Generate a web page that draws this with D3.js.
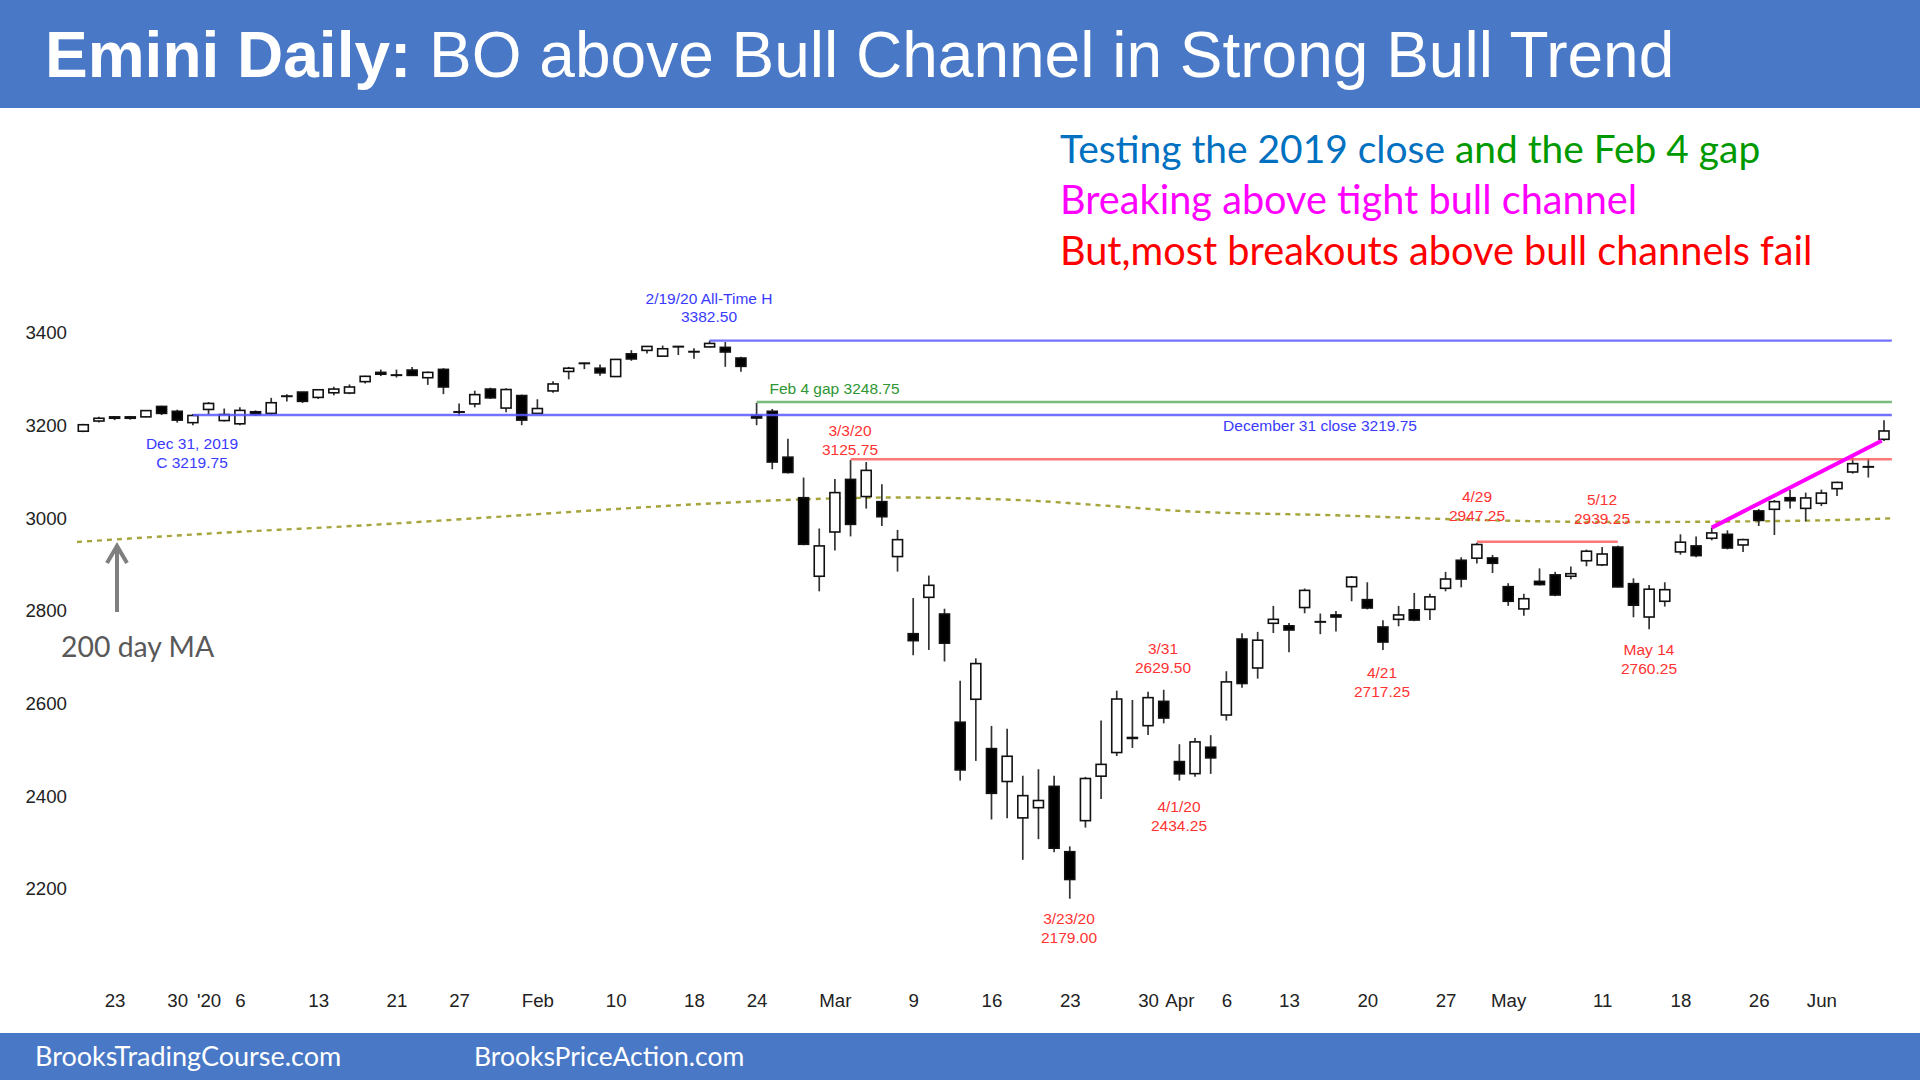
<!DOCTYPE html>
<html lang="en">

<head>
    <meta charset="UTF-8">
    <title>Emini Daily</title>
    <script src="https://d3js.org/d3.v7.min.js"></script>
    <style>
        html, body { margin: 0; padding: 0; background: #fff; }
        svg { display: block; }
        .tick text { font-family: "Liberation Sans", sans-serif; font-size: 18.7px; fill: #222; }
        .lbl { font-family: "Liberation Sans", sans-serif; font-size: 15.5px; text-anchor: middle; }
        .cal { font-family: Lato, sans-serif; }
    </style>
</head>

<body>

    <script>
        // daily bars, Dec 23 2019 side to Jun 2020
        const opens = [
            3188, 3210, 3219, 3219, 3219, 3241.5, 3231, 3206.5, 3235, 3211,
            3204, 3230, 3226.5, 3264, 3272.5, 3261, 3271, 3270.5, 3295, 3315,
            3309.5, 3320, 3303.5, 3321.5, 3230, 3247, 3279, 3238, 3265, 3226.5,
            3275, 3317, 3335, 3324, 3306, 3355, 3362.5, 3350, 3371, 3360,
            3370, 3369, 3346, 3222, 3231, 3132, 3044.5, 2875, 2970.5, 3084,
            3047, 3036, 2917.5, 2751, 2829.5, 2793.5, 2560, 2609.5, 2503, 2432,
            2353.5, 2375.5, 2421.5, 2280.5, 2347.5, 2443.5, 2494.5, 2527, 2552.5, 2605,
            2475, 2449, 2506, 2575.5, 2739.5, 2677, 2773.5, 2768, 2807.5, 2777,
            2791.5, 2852.5, 2824.5, 2765.5, 2782, 2802.5, 2803.5, 2849, 2909.5, 2914,
            2914.5, 2852.5, 2804.5, 2864, 2878, 2875, 2908.5, 2899.5, 2938, 2859,
            2787, 2821, 2927.5, 2940.5, 2957, 2965.5, 2942.5, 3016, 3019.5, 3044.5,
            3021.5, 3032.5, 3064, 3100, 3111.5, 3170.5
        ];
        const highs = [
            3204, 3219.5, 3221, 3221, 3233, 3243, 3234.5, 3225, 3251, 3237,
            3240, 3233, 3260, 3268, 3273, 3278.5, 3284, 3289, 3308, 3321,
            3321, 3326.5, 3317, 3324, 3248, 3275.5, 3282, 3281, 3267, 3257,
            3296, 3327, 3336, 3332, 3344, 3363, 3372, 3373, 3372, 3367,
            3383.5, 3380.5, 3349, 3249, 3236, 3172, 3088, 2978, 3085, 3126,
            3121.5, 3073.5, 2975, 2828, 2876.5, 2805, 2649.5, 2698, 2552, 2546,
            2444.5, 2458.5, 2444.5, 2292, 2442, 2563.5, 2628, 2608, 2625.5, 2630,
            2512.5, 2526, 2532, 2670, 2752, 2755, 2811, 2774, 2848.5, 2794.5,
            2800, 2875.5, 2862, 2780, 2811, 2839, 2837, 2884.5, 2916, 2947.5,
            2921, 2860, 2837, 2892, 2884.5, 2896, 2932.5, 2938, 2941, 2870.5,
            2856, 2862, 2965.5, 2961, 2980, 2974, 2956, 3020, 3039.5, 3061,
            3055.5, 3062, 3079, 3131.5, 3129.5, 3211.5
        ];
        const lows = [
            3186, 3207, 3212, 3213, 3218, 3223, 3206.5, 3201, 3224, 3209,
            3201, 3221, 3223, 3252, 3249, 3257.5, 3265.5, 3268, 3291, 3307,
            3304, 3307, 3288, 3268, 3221, 3239.5, 3257.5, 3229, 3201, 3225,
            3271, 3300, 3322, 3308, 3305, 3340, 3356, 3349, 3352.5, 3344.5,
            3369, 3327, 3316.5, 3201, 3106, 3097, 2942, 2842.5, 2930.5, 2961,
            3021, 2983.5, 2885, 2704.5, 2716, 2691, 2434, 2476.5, 2350, 2352.5,
            2263, 2307.5, 2279.5, 2179, 2332.5, 2394.5, 2487, 2504.5, 2532.5, 2557.5,
            2434, 2442.5, 2448.5, 2563.5, 2634.5, 2654, 2752.5, 2711, 2795, 2750,
            2755.5, 2821, 2803.5, 2716, 2767, 2778, 2780.5, 2842.5, 2851, 2902.5,
            2882, 2811, 2789.5, 2855, 2832, 2868.5, 2896.5, 2897, 2851, 2786.5,
            2760.5, 2809.5, 2921.5, 2916, 2952.5, 2933, 2927.5, 2983.5, 2964, 3021,
            2993.5, 3026.5, 3048, 3096.5, 3088, 3167
        ];
        const closes = [
            3202, 3216, 3216, 3216, 3232.5, 3226.5, 3212, 3222, 3248, 3224,
            3233, 3224, 3249.5, 3263.5, 3252.5, 3277.5, 3279, 3283.5, 3306.5, 3311,
            3309, 3308.5, 3315, 3283.5, 3230, 3267, 3260, 3278, 3212, 3237,
            3290, 3324, 3335, 3314, 3343, 3344, 3371, 3366, 3371, 3360,
            3377.5, 3359, 3328, 3216.5, 3121.5, 3099, 2944, 2940.5, 3055.5, 2987,
            3103.5, 3003.5, 2954, 2736, 2855.5, 2730.5, 2457, 2686.5, 2406.5, 2486.5,
            2401.5, 2391, 2288, 2220.5, 2438.5, 2469, 2610, 2525, 2613, 2569,
            2448.5, 2517.5, 2483, 2647, 2643.5, 2737, 2782, 2759, 2844.5, 2777,
            2787, 2873, 2806.5, 2733, 2791.5, 2780.5, 2830.5, 2869, 2869, 2943.5,
            2903, 2821, 2826.5, 2857, 2834.5, 2880.5, 2929, 2923, 2852, 2812.5,
            2847, 2846, 2948.5, 2919.5, 2968.5, 2936, 2954, 2995.5, 3036, 3038,
            3044, 3054.5, 3077.5, 3118, 3111.5, 3188.5
        ];

        // 200 day moving average, read at a handful of bars
        const maBars = [-0.4, 10, 18, 25, 33, 40, 46, 52, 60, 65, 70, 80, 89, 98, 110, 115.5];
        const maValues = [2949, 2971, 2985, 3000, 3018, 3032, 3041, 3045, 3039, 3028, 3016, 3006.5, 2996.5, 2992, 2995, 3000];

        // tick labels
        const xTickBars = [2, 6, 8, 10, 15, 20, 24, 29, 34, 39, 43, 48, 53, 58, 63, 68, 70, 73, 77, 82, 87, 91, 97, 102, 107, 111];
        const xTickLabels = ["23", "30", "'20", "6", "13", "21", "27", "Feb", "10", "18", "24", "Mar", "9", "16", "23", "30", "Apr", "6", "13", "20", "27", "May", "11", "18", "26", "Jun"];
        const yTicks = [2200, 2400, 2600, 2800, 3000, 3200, 3400];

        // horizontal levels [from bar, to bar, price]
        const athLevel = [40, 115.5, 3383.5];
        const gapLevel = [43, 115.5, 3251];
        const closeLevel = [7, 115.5, 3223];
        const marchLevel = [49, 115.5, 3127.5];
        const aprilLevel = [89, 98, 2949.5];

        // tight bull channel line
        const channelBars = [104, 114.85];
        const channelPrices = [2980, 3167.5];

        const width = 1920;
        const height = 1080;
        const blue = "#3a3aff";
        const red = "#ff3333";
        const headerColor = "#4878c6";

        const x = d3.scaleLinear().domain([0, 115]).range([83.3, 1884]);
        const y = d3.scaleLinear().domain([2200, 3400]).range([889, 333]);

        const svg = d3.select("body")
            .append("svg")
            .attr("width", width)
            .attr("height", height);

        svg.append("rect").attr("width", width).attr("height", height).attr("fill", "#fff");

        // header and footer bands
        svg.append("rect").attr("width", width).attr("height", 108).attr("fill", headerColor);
        svg.append("rect").attr("y", 1033).attr("width", width).attr("height", 47).attr("fill", headerColor);

        const title = svg.append("text")
            .attr("x", 45)
            .attr("y", 76.5)
            .attr("fill", "#fff")
            .style("font-family", '"Liberation Sans", sans-serif')
            .style("font-size", "64px");
        title.append("tspan").style("font-weight", "bold").text("Emini Daily:");
        title.append("tspan").text(" BO above Bull Channel in Strong Bull Trend");

        svg.append("text").attr("class", "cal").attr("x", 35).attr("y", 1066)
            .attr("fill", "#fff").style("font-size", "27px").text("BrooksTradingCourse.com");
        svg.append("text").attr("class", "cal").attr("x", 474).attr("y", 1066)
            .attr("fill", "#fff").style("font-size", "26.5px").text("BrooksPriceAction.com");

        // coloured headline notes
        const note1 = svg.append("text").attr("class", "cal").attr("x", 1060).attr("y", 163).style("font-size", "38.9px");
        note1.append("tspan").attr("fill", "#0070c0").text("Testing the 2019 close ");
        note1.append("tspan").attr("fill", "#009a00").text("and the Feb 4 gap");
        svg.append("text").attr("class", "cal").attr("x", 1060).attr("y", 214).style("font-size", "39.7px")
            .attr("fill", "#ff00ff").text("Breaking above tight bull channel");
        svg.append("text").attr("class", "cal").attr("x", 1060).attr("y", 265).style("font-size", "39.7px")
            .attr("fill", "#ff0000").text("But,most breakouts above bull channels fail");

        // axes
        const xAxis = d3.axisBottom(x)
            .tickValues(xTickBars)
            .tickFormat((d, i) => xTickLabels[i])
            .tickSize(0)
            .tickPadding(0);
        svg.append("g").attr("transform", "translate(0,994)").call(xAxis).call(g => g.select(".domain").remove());

        const yAxis = d3.axisLeft(y)
            .tickValues(yTicks)
            .tickFormat(d3.format("d"))
            .tickSize(0)
            .tickPadding(0);
        svg.append("g").attr("transform", "translate(67,0)").call(yAxis).call(g => g.select(".domain").remove());

        // moving average
        svg.append("path")
            .attr("d", d3.line().x(i => x(maBars[i])).y(i => y(maValues[i])).curve(d3.curveMonotoneX)(d3.range(maBars.length)))
            .attr("fill", "none")
            .attr("stroke", "#a5a53c")
            .attr("stroke-width", 2.4)
            .attr("stroke-dasharray", "5 5");

        // candles
        const bars = svg.selectAll(".bar")
            .data(d3.range(opens.length))
            .enter()
            .append("g")
            .attr("class", "bar");

        bars.append("line")
            .attr("x1", i => x(i)).attr("x2", i => x(i))
            .attr("y1", i => y(highs[i])).attr("y2", i => y(lows[i]))
            .attr("stroke", "#333")
            .attr("stroke-width", 1.7);

        bars.append("rect")
            .attr("x", i => x(i) - 5)
            .attr("width", 10)
            .attr("y", i => y(Math.max(opens[i], closes[i])))
            .attr("height", i => Math.max(Math.abs(y(opens[i]) - y(closes[i])), 0.4))
            .attr("fill", i => closes[i] < opens[i] ? "#000" : "#fff")
            .attr("stroke", "#111")
            .attr("stroke-width", 1.6);

        // level lines sit over the candles and let them show through
        const levels = [
            [athLevel, "#5a5aff"],
            [gapLevel, "#62ad62"],
            [closeLevel, "#5a5aff"],
            [marchLevel, "#ff6060"],
            [aprilLevel, "#ff6060"]
        ];
        svg.selectAll(".level")
            .data(levels)
            .enter()
            .append("line")
            .attr("class", "level")
            .attr("x1", d => x(d[0][0]))
            .attr("x2", d => x(d[0][1]))
            .attr("y1", d => y(d[0][2]))
            .attr("y2", d => y(d[0][2]))
            .attr("stroke", d => d[1])
            .attr("stroke-width", 2.4)
            .attr("opacity", 0.85);

        // channel line
        svg.append("line")
            .attr("x1", x(channelBars[0])).attr("y1", y(channelPrices[0]))
            .attr("x2", x(channelBars[1])).attr("y2", y(channelPrices[1]))
            .attr("stroke", "#ff00ff")
            .attr("stroke-width", 4);

        // 200 day MA arrow
        svg.append("path")
            .attr("d", "M117,612V546M107,563L117,546L127,563")
            .attr("fill", "none")
            .attr("stroke", "#7f7f7f")
            .attr("stroke-width", 4);
        svg.append("text").attr("class", "cal").attr("x", 61).attr("y", 657)
            .attr("fill", "#595959").style("font-size", "28.4px").text("200 day MA");

        // small price labels
        function label(cx, base, color, lines) {
            lines.forEach((t, i) => {
                svg.append("text")
                    .attr("class", "lbl")
                    .attr("x", cx)
                    .attr("y", base + i * 18.6)
                    .attr("fill", color)
                    .text(t);
            });
        }

        label(192, 449, blue, ["Dec 31, 2019", "C 3219.75"]);
        label(709, 303.5, blue, ["2/19/20 All-Time H", "3382.50"]);
        label(834.5, 394, "#2e9632", ["Feb 4 gap 3248.75"]);
        label(850, 436, red, ["3/3/20", "3125.75"]);
        label(1320, 430.5, blue, ["December 31 close 3219.75"]);
        label(1163, 654, red, ["3/31", "2629.50"]);
        label(1179, 812, red, ["4/1/20", "2434.25"]);
        label(1069, 924, red, ["3/23/20", "2179.00"]);
        label(1382, 678, red, ["4/21", "2717.25"]);
        label(1477, 502, red, ["4/29", "2947.25"]);
        label(1602, 505, red, ["5/12", "2939.25"]);
        label(1649, 655, red, ["May 14", "2760.25"]);
    </script>
</body>

</html>
